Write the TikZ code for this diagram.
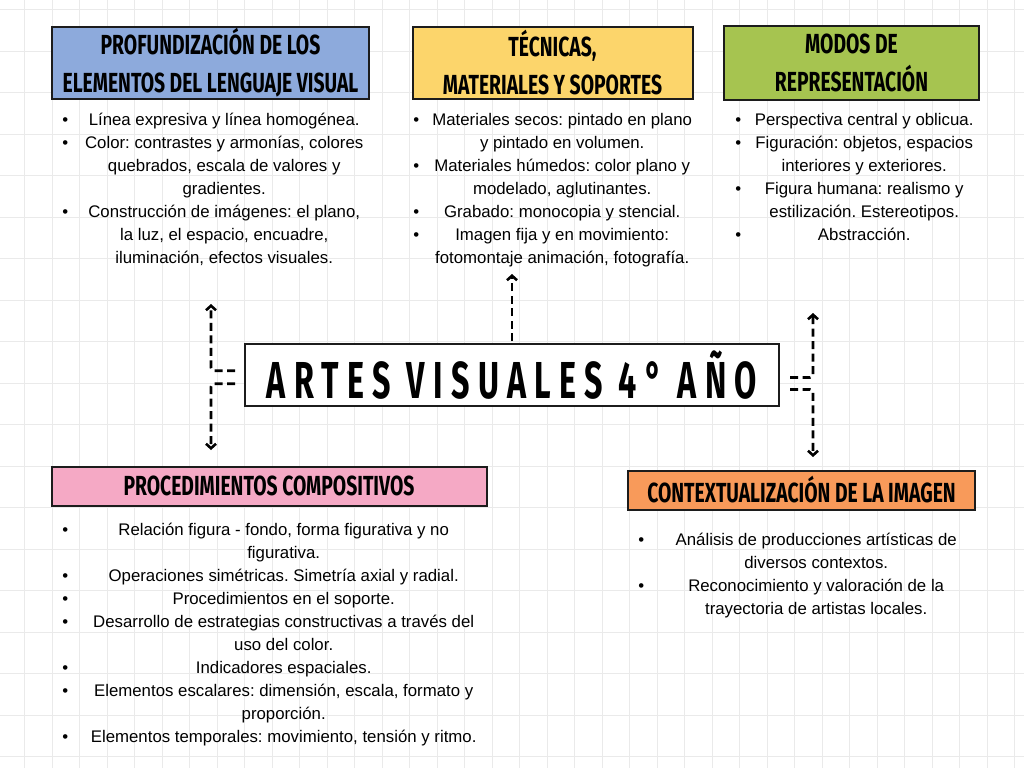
\documentclass[tikz,border=0pt]{standalone}
\usepackage{fontspec}
\setmainfont{Liberation Sans}
\newfontfamily\hdrfont{Fira Sans}[FakeStretch=0.70]
\newfontfamily\ttlfont{Fira Sans}[FakeStretch=0.62,LetterSpace=16]
\usetikzlibrary{arrows.meta}

\definecolor{gridln}{HTML}{EAEAEA}
\definecolor{edge}{HTML}{1C1C1C}
\definecolor{hblue}{HTML}{8DAADC}
\definecolor{hyellow}{HTML}{FCD56B}
\definecolor{hgreen}{HTML}{A6C450}
\definecolor{hpink}{HTML}{F5A9C5}
\definecolor{horange}{HTML}{F89A5A}

\newcommand\bodyfont{\fontsize{16.8}{23}\selectfont\frenchspacing}
\newlength\bulw
\newlength\txtw
% one list line: bullet column + centred text column
\newcommand\itm[1]{\makebox[\bulw]{\strut\textbullet}\makebox[\txtw]{#1}}
\newcommand\cnt[1]{\makebox[\bulw]{\strut}\makebox[\txtw]{#1}}

\tikzset{
  x=1pt, y=-1pt,
  gridline/.style={draw=gridln, line width=0.7pt},
  hdr/.style={draw=edge, line width=2pt, align=center, inner sep=0pt,
    font=\hdrfont\bfseries\fontsize{27.6}{38}\selectfont},
  ttl/.style={draw=edge, fill=white, line width=2pt, inner sep=0pt,
    minimum width=534pt, minimum height=62pt,
    font=\ttlfont\bfseries\fontsize{52}{60}\selectfont},
  lst/.style 2 args={anchor=north west, inner sep=0pt, align=left,
    font=\bodyfont,
    execute at begin node={\setlength\bulw{#1}\setlength\txtw{#2}}},
  conn/.style={draw=black, line width=2.6pt, dash pattern=on 8pt off 4.5pt,
    rounded corners=3pt, -{Straight Barb[length=4.5pt,width=10pt]}},
}

\begin{document}
\begin{tikzpicture}
\useasboundingbox (0,0) rectangle (1024,768);
\fill[white] (0,0) rectangle (1024,768);

% squared paper
\foreach \i in {0,...,36}
  \draw[gridline] ({24.5+27.5*\i},0) -- ({24.5+27.5*\i},768);
\foreach \j in {0,...,18}
  \draw[gridline] (0,{9.5+41.5*\j}) -- (1024,{9.5+41.5*\j});

% headings
\node[hdr, fill=hblue, minimum width=317pt, minimum height=72pt] (lenguaje) at (210.5,63)
  {PROFUNDIZACIÓN DE LOS\\ELEMENTOS DEL LENGUAJE VISUAL};
\node[hdr, fill=hyellow, minimum width=280pt, minimum height=72pt] (tecnicas) at (552.5,63)
  {TÉCNICAS,\\MATERIALES Y SOPORTES};
\node[hdr, fill=hgreen, minimum width=255pt, minimum height=73pt] (modos) at (851.5,63)
  {MODOS DE\\REPRESENTACIÓN};
\node[hdr, fill=hpink, minimum width=435pt, minimum height=39pt] (procedimientos) at (269,486)
  {PROCEDIMIENTOS COMPOSITIVOS};
\node[hdr, fill=horange, minimum width=347pt, minimum height=39pt] (contexto) at (801.5,490)
  {CONTEXTUALIZACIÓN DE LA IMAGEN};

% central title
\node[ttl] (title) at (512,375) {ARTES VISUALES 4° AÑO};

% contents
\node[lst={20pt}{298pt}] (lenguajeList) at (55,108.9) {%
  \itm{Línea expresiva y línea homogénea.}\\
  \itm{Color: contrastes y armonías, colores}\\
  \cnt{quebrados, escala de valores y}\\
  \cnt{gradientes.}\\
  \itm{Construcción de imágenes: el plano,}\\
  \cnt{la luz, el espacio, encuadre,}\\
  \cnt{iluminación, efectos visuales.}};

\node[lst={20pt}{272pt}] (tecnicasList) at (406,108.9) {%
  \itm{Materiales secos: pintado en plano}\\
  \cnt{y pintado en volumen.}\\
  \itm{Materiales húmedos: color plano y}\\
  \cnt{modelado, aglutinantes.}\\
  \itm{Grabado: monocopia y stencial.}\\
  \itm{Imagen fija y en movimiento:}\\
  \cnt{fotomontaje animación, fotografía.}};

\node[lst={20pt}{232pt}] (modosList) at (728,108.9) {%
  \itm{Perspectiva central y oblicua.}\\
  \itm{Figuración: objetos, espacios}\\
  \cnt{interiores y exteriores.}\\
  \itm{Figura humana: realismo y}\\
  \cnt{estilización. Estereotipos.}\\
  \itm{Abstracción.}};

\node[lst={20pt}{417pt}] (procedimientosList) at (55,518.9) {%
  \itm{Relación figura - fondo, forma figurativa y no}\\
  \cnt{figurativa.}\\
  \itm{Operaciones simétricas. Simetría axial y radial.}\\
  \itm{Procedimientos en el soporte.}\\
  \itm{Desarrollo de estrategias constructivas a través del}\\
  \cnt{uso del color.}\\
  \itm{Indicadores espaciales.}\\
  \itm{Elementos escalares: dimensión, escala, formato y}\\
  \cnt{proporción.}\\
  \itm{Elementos temporales: movimiento, tensión y ritmo.}};

\node[lst={20pt}{330pt}] (contextoList) at (631,528.9) {%
  \itm{Análisis de producciones artísticas de}\\
  \cnt{diversos contextos.}\\
  \itm{Reconocimiento y valoración de la}\\
  \cnt{trayectoria de artistas locales.}};

% arrow ends
\coordinate (lup) at (211,304);
\coordinate (ldn) at (211,450);
\coordinate (mup) at (512,274);
\coordinate (rup) at (813,313);
\coordinate (rdn) at (813,457);

% connectors
\draw[conn] ([xshift=-9pt,yshift=4.3pt]title.west) -| (lup);
\draw[conn] ([xshift=-9pt,yshift=-8.7pt]title.west) -| (ldn);
\draw[conn] ([yshift=2pt]title.north) -- (mup);
\draw[conn] ([xshift=10pt,yshift=-2.5pt]title.east) -| (rup);
\draw[conn] ([xshift=10pt,yshift=-14.5pt]title.east) -| (rdn);
\end{tikzpicture}
\end{document}
